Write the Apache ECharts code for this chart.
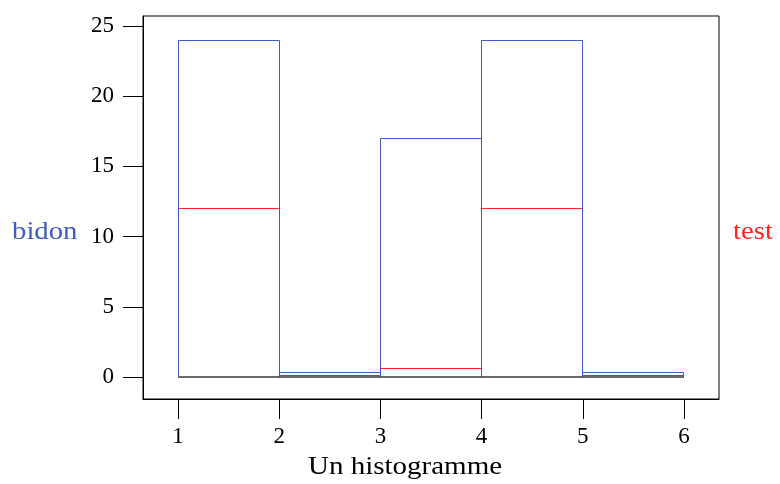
<!DOCTYPE html>
<html><head><meta charset="utf-8">
<script src="https://cdn.jsdelivr.net/npm/echarts@6/dist/echarts.min.js"></script>
<style>html,body{margin:0;padding:0;background:#fff}#c{width:780px;height:484px}</style>
</head><body><div id="c"></div>
<script>
var binEdges = [1, 2, 3, 4, 5, 6];
var bidonCounts = [24, 0.3, 17, 24, 0.3];
var testCounts = [12, 0.1, 0.6, 12, 0.1];
var baseCounts = [0, 0, 0, 0, 0];
var xTicks = [1, 2, 3, 4, 5, 6];
var yTicks = [0, 5, 10, 15, 20, 25];

function binData(edges, vals) {
  var out = [];
  for (var i = 0; i < vals.length; i++) out.push([edges[i], edges[i + 1], vals[i]]);
  return out;
}
function snap(v) { return Math.round(v - 0.5) + 0.5; }
function rectOutline(color) {
  return function (params, api) {
    var a = api.coord([api.value(0), 0]);
    var b = api.coord([api.value(1), api.value(2)]);
    var x0 = snap(a[0]), y0 = snap(a[1]), x1 = snap(b[0]), y1 = snap(b[1]);
    return {
      type: 'polyline',
      shape: { points: [[x0, y0], [x0, y1], [x1, y1], [x1, y0]] },
      style: { stroke: color, fill: null, lineWidth: 1 }
    };
  };
}

var blue = '#3f5cc0', red = '#ff2222';
var font = '"Liberation Serif", "DejaVu Serif", serif';
var chart = echarts.init(document.getElementById('c'));
chart.setOption({
  animation: false,
  grid: { left: 143, right: 61, top: 16, bottom: 85, show: true, borderColor: '#000', borderWidth: 1 },
  xAxis: {
    type: 'value', min: 0.654, max: 6.346,
    splitLine: { show: false },
    axisLine: { show: true, onZero: false, lineStyle: { color: '#000' } },
    axisTick: { show: true, inside: false, length: 20, customValues: xTicks, lineStyle: { color: '#000' } },
    axisLabel: { customValues: xTicks, margin: 26, fontFamily: font, fontSize: 23, color: '#000' }
  },
  yAxis: {
    type: 'value', min: -1.57, max: 25.71,
    splitLine: { show: false },
    axisLine: { show: true, onZero: false, lineStyle: { color: '#000' } },
    axisTick: { show: true, inside: false, length: 20, customValues: yTicks, lineStyle: { color: '#000' } },
    axisLabel: { customValues: yTicks, margin: 29, fontFamily: font, fontSize: 23, color: '#000' }
  },
  series: [
    { type: 'custom', data: binData(binEdges, testCounts), renderItem: rectOutline(red), encode: { x: [0, 1], y: 2 }, z: 2 },
    { type: 'custom', data: binData(binEdges, bidonCounts), renderItem: rectOutline(blue), encode: { x: [0, 1], y: 2 }, z: 3 },
    { type: 'line', data: [[binEdges[0], baseCounts[0]], [binEdges[5], baseCounts[4]]], symbol: 'none', lineStyle: { color: '#3a3a3a', width: 1.6 }, z: 4 }
  ],
  graphic: [
    { type: 'text', x: 12, y: 232, scaleX: 1.15, style: { text: 'bidon', fill: blue, font: '25px ' + font, align: 'left', verticalAlign: 'middle' } },
    { type: 'text', x: 733, y: 232, scaleX: 1.15, style: { text: 'test', fill: red, font: '25px ' + font, align: 'left', verticalAlign: 'middle' } },
    { type: 'text', x: 405, y: 467, scaleX: 1.16, style: { text: 'Un histogramme', fill: '#000', font: '25px ' + font, align: 'center', verticalAlign: 'middle' } }
  ]
});
</script></body></html>
